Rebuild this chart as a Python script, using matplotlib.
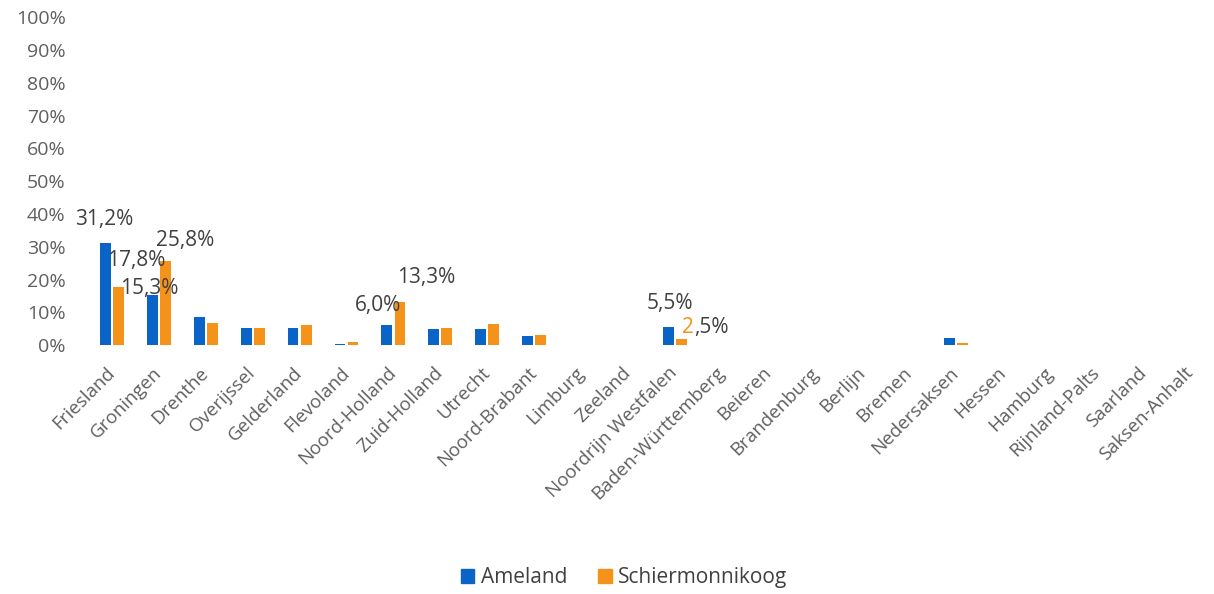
import numpy as np
import matplotlib
matplotlib.use('Agg')
import matplotlib.pyplot as plt
from matplotlib.patches import Patch

plt.rcParams['font.family'] = ['Open Sans', 'DejaVu Sans']

# ===== data =====
regions = ['Friesland', 'Groningen', 'Drenthe', 'Overijssel', 'Gelderland', 'Flevoland',
           'Noord-Holland', 'Zuid-Holland', 'Utrecht', 'Noord-Brabant', 'Limburg', 'Zeeland',
           'Noordrijn Westfalen', 'Baden-Württemberg', 'Beieren', 'Brandenburg', 'Berlijn',
           'Bremen', 'Nedersaksen', 'Hessen', 'Hamburg', 'Rijnland-Palts', 'Saarland',
           'Saksen-Anhalt']
ameland = [31.2, 15.3, 8.5, 5.2, 5.3, 0.4, 6.0, 5.0, 5.0, 2.7, 0.15, 0.0,
           5.5, 0.0, 0.0, 0.0, 0.0, 0.0, 2.2, 0.0, 0.0, 0.0, 0.0, 0.0]
schier = [17.8, 25.8, 6.7, 5.2, 6.1, 1.0, 13.3, 5.3, 6.3, 3.2, 0.15, 0.0,
          1.8, 0.0, 0.0, 0.0, 0.0, 0.0, 0.5, 0.0, 0.0, 0.0, 0.0, 0.0]

# data labels as they sit in the chart: (text, x in category units, y in %)
labels = [
    ('31,2%', -0.17, 38.4),
    ('17,8%', 0.51, 25.9),
    ('15,3%', 0.80, 17.4),
    ('25,8%', 1.55, 32.0),
    ('6,0%', 5.68, 12.2),
    ('13,3%', 6.69, 20.7),
    ('5,5%', 11.89, 12.8),
]

BLUE = '#0a64c8'
ORANGE = '#f4921a'
TXT = '#404040'
TICK = '#5f5f5f'

fig = plt.figure(figsize=(12.14, 5.94), dpi=100)
ax = fig.add_axes([0.073, 0.419, 0.927, 0.552])

x = np.arange(len(regions))
w = 0.23
ax.bar(x - 0.14, ameland, width=w, color=BLUE)
ax.bar(x + 0.14, schier, width=w, color=ORANGE)

for txt, xi, yv in labels:
    ax.text(xi, yv, txt, ha='center', va='center', fontsize=15, color=TXT)

# "2,5%" label with orange first digit
ax.text(12.16, 5.5, '2', ha='left', va='center', fontsize=15, color=ORANGE)
ax.text(12.42, 5.5, ',5%', ha='left', va='center', fontsize=15, color=TXT)

ax.set_xlim(-0.5, len(regions) - 0.5)
ax.set_ylim(0, 100)
ax.set_yticks(np.arange(0, 101, 10))
ax.set_yticklabels([f'{v}%' for v in range(0, 101, 10)])
ax.set_xticks(x)
ax.set_xticklabels(regions, rotation=45, ha='right', va='center', rotation_mode='anchor')
ax.tick_params(axis='both', length=0, labelsize=13.5, colors=TICK)
ax.tick_params(axis='y', labelsize=14, pad=16.5)
ax.tick_params(axis='x', pad=18)
for s in ax.spines.values():
    s.set_visible(False)

handles = [Patch(color=BLUE, label='Ameland'), Patch(color=ORANGE, label='Schiermonnikoog')]
fig.legend(handles=handles, loc='center', bbox_to_anchor=(0.514, 0.027), ncol=2,
           frameon=False, fontsize=15, handlelength=0.65, handleheight=0.65,
           handletextpad=0.3, columnspacing=1.5, labelcolor=TXT)

plt.savefig('out.png', dpi=100, facecolor='white')
